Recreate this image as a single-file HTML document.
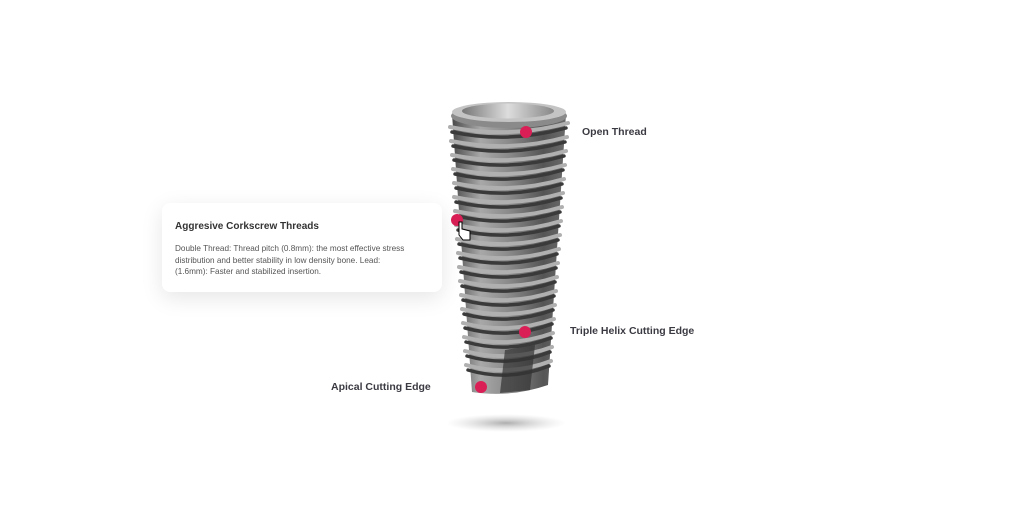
<!DOCTYPE html>
<html><head><meta charset="utf-8"><style>
html,body{margin:0;padding:0;background:#fff;width:1024px;height:530px;overflow:hidden;font-family:"Liberation Sans",sans-serif;}
.lbl{position:absolute;font-weight:bold;font-size:10.5px;color:#3a3a42;white-space:nowrap;}
.card{position:absolute;left:162px;top:203px;width:280px;height:89px;background:#fff;border-radius:8px;box-shadow:0 6px 22px rgba(0,0,0,0.10);box-sizing:border-box;padding:18px 13px;}
.card h4{margin:0 0 11px 0;font-size:10px;color:#333;font-weight:bold;}
.card p{margin:0;font-size:8.2px;line-height:11.5px;color:#555;white-space:nowrap;}
</style></head><body>
<svg width="1024" height="530" style="position:absolute;left:0;top:0">
<defs>
<linearGradient id="body" x1="0" x2="1" y1="0" y2="0">
<stop offset="0" stop-color="#4a4a4a"/><stop offset="0.25" stop-color="#a8a8a8"/><stop offset="0.5" stop-color="#8a8a8a"/><stop offset="0.8" stop-color="#555"/><stop offset="1" stop-color="#6a6a6a"/>
</linearGradient>
<radialGradient id="sh"><stop offset="0" stop-color="#999" stop-opacity="0.8"/><stop offset="1" stop-color="#ccc" stop-opacity="0"/></radialGradient>
<linearGradient id="inner" x1="0" x2="1"><stop offset="0" stop-color="#777"/><stop offset="0.5" stop-color="#ddd"/><stop offset="1" stop-color="#888"/></linearGradient>
</defs>
<ellipse cx="506" cy="423" rx="60" ry="9" fill="url(#sh)"/>
<path d="M452 114 L566 114 L548 385 Q510 398 472 392 Z" fill="url(#body)"/>
<g fill="none" stroke-linecap="round">
<g stroke="#3a3a3a" stroke-width="3.5">
<path d="M452 132 Q509 144 566 128"/><path d="M453 146 Q509 158 565 142"/><path d="M454 160 Q509 172 564 156"/><path d="M455 174 Q509 186 563 170"/><path d="M456 188 Q509 200 562 184"/><path d="M456 202 Q509 214 561 198"/><path d="M457 216 Q509 228 560 212"/><path d="M458 230 Q509 242 559 226"/><path d="M459 244 Q509 256 558 240"/><path d="M460 258 Q509 270 557 254"/><path d="M461 272 Q509 284 556 268"/><path d="M462 286 Q509 298 555 282"/><path d="M463 300 Q509 312 554 296"/><path d="M464 314 Q509 326 553 310"/><path d="M465 328 Q509 340 552 324"/><path d="M466 342 Q509 354 551 338"/><path d="M467 356 Q509 368 550 352"/><path d="M468 370 Q509 382 549 366"/>
</g>
<g stroke="#b0b0b0" stroke-width="4">
<path d="M450 127 Q509 139 568 123"/><path d="M451 141 Q509 153 567 137"/><path d="M452 155 Q509 167 566 151"/><path d="M453 169 Q509 181 565 165"/><path d="M454 183 Q509 195 564 179"/><path d="M454 197 Q509 209 563 193"/><path d="M455 211 Q509 223 562 207"/><path d="M456 225 Q509 237 561 221"/><path d="M457 239 Q509 251 560 235"/><path d="M458 253 Q509 265 559 249"/><path d="M459 267 Q509 279 558 263"/><path d="M460 281 Q509 293 557 277"/><path d="M461 295 Q509 307 556 291"/><path d="M462 309 Q509 321 555 305"/><path d="M463 323 Q509 335 554 319"/><path d="M464 337 Q509 349 553 333"/><path d="M465 351 Q509 363 552 347"/><path d="M466 365 Q509 377 551 361"/>
</g>
</g>
<path d="M505 350 L535 345 L530 390 L500 393 Z" fill="#333" opacity="0.7"/>
<ellipse cx="509" cy="116" rx="58" ry="12" fill="#8a8a8a"/>
<ellipse cx="509" cy="112" rx="57" ry="10" fill="#c4c4c4"/>
<ellipse cx="508" cy="111" rx="46" ry="7.5" fill="url(#inner)"/>
<circle cx="526" cy="132" r="6" fill="#d91f55"/>
<circle cx="457" cy="220" r="6" fill="#d91f55"/>
<circle cx="525" cy="332" r="6" fill="#d91f55"/>
<circle cx="481" cy="387" r="6" fill="#d91f55"/>
<path d="M459 222 L459 235 L463 240 L470 240 L470 231 L462 229 L462 222 Z" fill="#fff" stroke="#000" stroke-width="1"/>
</svg>
<div class="lbl" style="left:582px;top:126px">Open Thread</div>
<div class="lbl" style="left:570px;top:325px">Triple Helix Cutting Edge</div>
<div class="lbl" style="left:331px;top:381px">Apical Cutting Edge</div>
<div class="card"><h4>Aggresive Corkscrew Threads</h4><p>Double Thread: Thread pitch (0.8mm): the most effective stress<br>distribution and better stability in low density bone. Lead:<br>(1.6mm): Faster and stabilized insertion.</p></div>
</body></html>
